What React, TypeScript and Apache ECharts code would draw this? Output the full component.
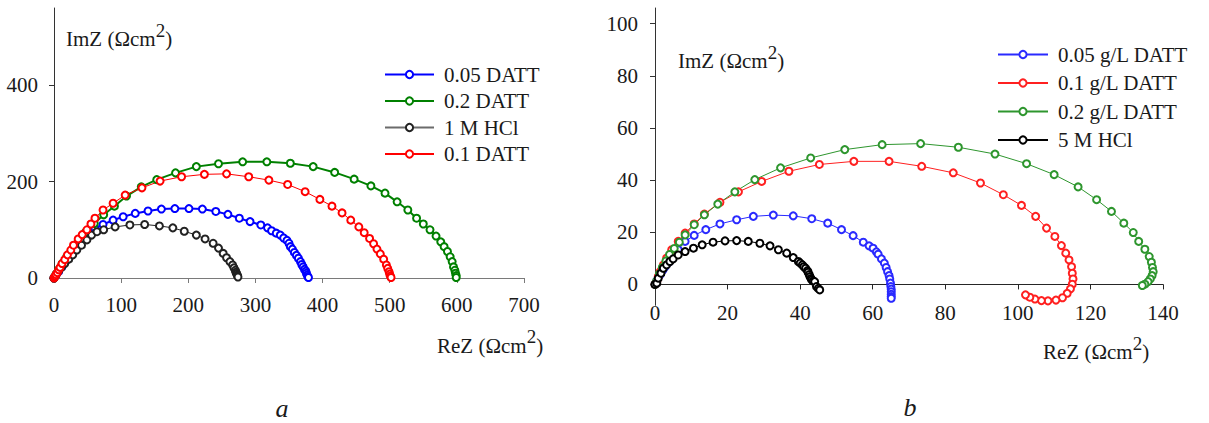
import React, { useEffect, useRef } from 'react';
import * as echarts from 'echarts';

const FONT = '"Liberation Serif", "Times New Roman", serif';
const TEXT = '#1a1a1a';

// ---------- Panel a (left) ----------
const leftNames = ['0.05 DATT', '0.2 DATT', '1 M HCl', '0.1 DATT'];
const leftXTicks = [0, 100, 200, 300, 400, 500, 600, 700];
const leftYTicks = [0, 200, 400];

const leftBlue = [
  [0, 0], [3, 6], [7, 14], [12, 24], [18, 36], [25, 50], [33, 64], [42, 79], [51, 92], [61, 103],
  [73, 111], [88, 120], [103, 127], [121, 134], [140, 139], [160, 143], [180, 144], [201, 144],
  [221, 143], [241, 138], [259, 132], [276, 124], [292, 117], [308, 110], [318, 104], [324, 98],
  [331, 93], [337, 89], [342, 83], [347, 78], [350, 72], [352, 65], [355, 60], [358, 53], [361, 47],
  [364, 41], [367, 34], [369, 28], [371, 23], [373, 18], [375, 14], [376, 10], [377, 6], [378, 3], [379, 1],
];
const leftGreen = [
  [0, 0], [3, 8], [7, 18], [12, 30], [19, 44], [27, 59], [36, 76], [47, 95], [60, 113], [74, 131],
  [90, 149], [108, 170], [130, 189], [153, 204], [181, 218], [212, 231], [245, 237], [281, 241],
  [317, 241], [352, 238], [386, 231], [418, 219], [447, 205], [472, 191], [493, 176], [511, 158],
  [527, 141], [540, 124], [550, 112], [560, 100], [569, 87], [576, 75], [581, 65], [586, 55],
  [590, 44], [593, 34], [595, 23], [597, 16], [598, 10], [599, 5], [599, 1],
];
const leftBlack = [
  [0, 0], [2, 4], [4, 9], [7, 15], [11, 22], [16, 30], [22, 39], [28, 48], [34, 58], [41, 68],
  [49, 79], [56, 89], [64, 96], [74, 100], [91, 106], [113, 110], [135, 111], [157, 108], [177, 104],
  [194, 97], [212, 89], [225, 81], [237, 72], [245, 62], [252, 51], [257, 42], [262, 34], [266, 27],
  [268, 21], [270, 16], [271, 12], [272, 9], [273, 6], [273.5, 4], [274, 2],
];
const leftRed = [
  [0, 0], [1, 2], [2, 4], [3, 7], [5, 11], [7, 17], [9, 22], [12, 30], [16, 38], [20, 48], [25, 58],
  [29, 68], [36, 81], [42, 90], [49, 100], [55, 112], [61, 124], [73, 141], [88, 155], [106, 172],
  [131, 187], [158, 201], [190, 210], [224, 215], [257, 216], [290, 210], [320, 203], [348, 194],
  [374, 179], [396, 163], [414, 149], [429, 135], [442, 120], [454, 106], [462, 94], [470, 82],
  [476, 71], [481, 60], [486, 50], [491, 39], [495, 27], [497, 20], [499, 13], [500, 8], [501, 4], [502, 1],
];

// ---------- Panel b (right) ----------
const rightNames = ['0.05 g/L DATT', '0.1 g/L DATT', '0.2 g/L DATT', '5 M HCl'];
const rightXTicks = [0, 20, 40, 60, 80, 100, 120, 140];
const rightYTicks = [0, 20, 40, 60, 80, 100];
const rightYMin = -8;
const rightYMax = 106;

const rightBlue = [
  [0, 0], [0.5, 1.5], [1.4, 3.7], [2.2, 5.5], [2.8, 6.8], [3.7, 8.5], [4.6, 10], [5.5, 11.8], [6.4, 13.3],
  [8.3, 16.5], [10.8, 18.8], [14, 21], [17.9, 23.2], [22.5, 24.8], [27.1, 26.1], [32.6, 26.6],
  [38.1, 26.3], [43.2, 25.2], [47.6, 23.5], [51.4, 21], [54.6, 18.7], [57.4, 16.2], [59, 14.8],
  [60.1, 13.9], [61, 12.5], [61.5, 11.6], [62.4, 9.8], [63.2, 8.2], [63.7, 6.5], [64.1, 4.9],
  [64.5, 3.4], [64.7, 2.1], [64.9, 0.5], [65, -0.8], [65.1, -1.8], [65.1, -2.8], [65.1, -3.8],
  [65.1, -4.6], [65.1, -5.3],
];
const rightRed = [
  [0, 0], [0.5, 1.1], [0.9, 3], [1.4, 4.9], [2.3, 7.5], [3.2, 10.1], [4.6, 13.3], [6.4, 16.5],
  [8.3, 19.7], [10.8, 23.2], [13.6, 27], [17.9, 31.5], [23, 35.5], [29.4, 39.5], [36.9, 43.4],
  [45.3, 46], [54.8, 47.2], [64.5, 47.2], [73.5, 45.3], [82.2, 42.8], [89.7, 38.9], [96, 34.4],
  [101, 30.3], [104.9, 26.1], [107.9, 21.6], [110.2, 18.4], [112, 14.9], [113.2, 12], [114.1, 9.4],
  [114.8, 6.8], [115, 4.3], [115.2, 2.1], [115, 0.1], [114.5, -1.7], [113.6, -3.4], [112.3, -5.1],
  [110.5, -6], [108.3, -6.3], [106.5, -6.2], [104.7, -5.6], [103.3, -4.9], [102.1, -4],
];
const rightGreen = [
  [0, 0], [0.5, 1.5], [1.2, 4], [2, 6.5], [3, 9], [4, 11.5], [5.3, 13.8], [6.7, 16.2], [8.3, 19],
  [10.8, 22.9], [13.6, 26.7], [17.3, 30.8], [22, 35.5], [27.5, 40.2], [34.6, 44.7], [42.9, 48.5],
  [52.3, 51.7], [62.6, 53.6], [73.2, 54], [83.6, 52.6], [93.7, 50], [102.4, 46.3], [110, 42.1],
  [116.6, 37.4], [121.7, 32.5], [125.8, 28], [129.2, 23.5], [131.8, 19.9], [133.3, 16.5], [135, 13.5],
  [136.2, 10.7], [136.8, 8.5], [137.1, 6.5], [137.3, 4.9], [137, 3.4], [136.5, 2.1], [135.9, 1.1],
  [135, 0.1], [134.3, -0.4],
];
const rightBlack = [
  [0, 0], [0.5, 0.5], [0.9, 2.4], [1.65, 4.3], [2.3, 6.2], [3.2, 7.5], [4.1, 8.8], [5, 9.8], [6.4, 11.3],
  [8.3, 12.6], [10.6, 13.9], [13, 15.2], [16, 16.2], [19.3, 16.7], [22.5, 16.8], [25.7, 16.5],
  [28.9, 15.8], [31.7, 14.8], [34, 13.3], [36.3, 12], [38.1, 10.3], [39.5, 8.8], [40, 8.2], [40.6, 7.5],
  [41, 6.8], [41.5, 6.2], [42, 5.3], [42.2, 4.7], [42.5, 3.8], [42.7, 3], [43, 2.3], [43.2, 1.7],
  [43.6, 1.3], [44, 1.1], [44.5, -0.8], [45, -1.5], [45.4, -2.1],
];

const RIGHT_GRID_H = 297.3;

function axisCommon(lineColor: string, margin: number) {
  return {
    axisLine: { show: true, onZero: false, lineStyle: { color: lineColor, width: 1 } },
    axisTick: { show: true, length: 5, lineStyle: { color: lineColor, width: 1 } },
    axisLabel: { margin, fontSize: 21, fontFamily: FONT, color: TEXT },
    splitLine: { show: false },
  };
}

function series(name: string, data: number[][], color: string, width: number, axis: number, size: number) {
  return {
    name,
    type: 'line',
    xAxisIndex: axis,
    yAxisIndex: axis,
    data,
    symbol: 'emptyCircle',
    symbolSize: size,
    showSymbol: true,
    showAllSymbol: true,
    clip: false,
    silent: true,
    lineStyle: { color, width },
    itemStyle: { color, borderColor: color, borderWidth: 1 },
    emphasis: { disabled: true },
  };
}

function unitLabel(text: string, x: number, yBottom: number) {
  return {
    type: 'text',
    silent: true,
    style: {
      x,
      y: yBottom,
      text: `{a|${text} (Ωcm}{s|2}{a|)}`,
      align: 'left',
      verticalAlign: 'bottom',
      fill: TEXT,
      rich: {
        a: { fontSize: 21, fontFamily: FONT, fill: TEXT, verticalAlign: 'bottom' },
        s: { fontSize: 19, fontFamily: FONT, fill: TEXT, verticalAlign: 'bottom', padding: [0, 0, 10, 0] },
      },
    },
  };
}

const legendText = { fontSize: 21, fontFamily: FONT, color: TEXT, padding: [0, 0, 0, 5] };

export default function App() {
  const ref = useRef<HTMLDivElement>(null);
  useEffect(() => {
    const chart = echarts.init(ref.current!, null, { renderer: 'svg' });
    // the horizontal axis of panel b crosses the vertical axis at ImZ = 0
    const zeroOffset = -(RIGHT_GRID_H * (0 - rightYMin)) / (rightYMax - rightYMin);
    const option: any = {
      animation: false,
      backgroundColor: '#ffffff',
      grid: [
        { left: 54, top: 8, width: 470, height: 270, outerBoundsMode: 'none', containLabel: false },
        { left: 655, top: 8, width: 508, height: RIGHT_GRID_H, outerBoundsMode: 'none', containLabel: false },
      ],
      xAxis: [
        {
          gridIndex: 0, type: 'value', min: leftXTicks[0], max: leftXTicks[leftXTicks.length - 1], interval: 100,
          ...axisCommon('#7a7a7a', 16),
        },
        {
          gridIndex: 1, type: 'value', min: rightXTicks[0], max: rightXTicks[rightXTicks.length - 1], interval: 20,
          position: 'bottom', offset: zeroOffset,
          ...axisCommon('#262626', 18),
        },
      ],
      yAxis: [
        (() => {
          const c: any = axisCommon('#333333', 16);
          return {
            gridIndex: 0, type: 'value', min: 0, max: 560,
            ...c,
            axisTick: { ...c.axisTick, customValues: leftYTicks },
            axisLabel: { ...c.axisLabel, customValues: leftYTicks },
          };
        })(),
        (() => {
          const c: any = axisCommon('#333333', 17);
          return {
            gridIndex: 1, type: 'value', min: rightYMin, max: rightYMax,
            ...c,
            axisTick: { ...c.axisTick, customValues: rightYTicks },
            axisLabel: { ...c.axisLabel, customValues: rightYTicks },
          };
        })(),
      ],
      legend: [
        {
          orient: 'vertical', left: 384, top: 64, padding: 0, itemGap: 5.5, itemWidth: 49, itemHeight: 9,
          selectedMode: false, textStyle: legendText,
          data: [
            { name: leftNames[0] },
            { name: leftNames[1] },
            { name: leftNames[2], lineStyle: { color: '#6b6b6b' } },
            { name: leftNames[3] },
          ],
        },
        {
          orient: 'vertical', left: 997, top: 44, padding: 0, itemGap: 7.5, itemWidth: 50, itemHeight: 9,
          selectedMode: false, textStyle: legendText,
          data: rightNames.map((n) => ({ name: n })),
        },
      ],
      series: [
        series(leftNames[0], leftBlue, '#0000ff', 2, 0, 7),
        series(leftNames[1], leftGreen, '#008000', 2, 0, 7),
        series(leftNames[2], leftBlack, '#222222', 1, 0, 7),
        series(leftNames[3], leftRed, '#ff0000', 1, 0, 7),
        series(rightNames[0], rightBlue, '#2a2aff', 1, 1, 7),
        series(rightNames[1], rightRed, '#ff2020', 1, 1, 7),
        series(rightNames[2], rightGreen, '#2e962e', 1, 1, 7),
        series(rightNames[3], rightBlack, '#000000', 1, 1, 7),
      ],
      graphic: [
        unitLabel('ImZ', 66, 49.5),
        unitLabel('ReZ', 437, 356),
        unitLabel('ImZ', 678, 71.5),
        unitLabel('ReZ', 1043, 362.5),
        {
          type: 'text', silent: true,
          style: { x: 282, y: 408, text: 'a', align: 'center', verticalAlign: 'middle', fill: TEXT,
            font: `italic 26px ${FONT}` },
        },
        {
          type: 'text', silent: true,
          style: { x: 910, y: 407, text: 'b', align: 'center', verticalAlign: 'middle', fill: TEXT,
            font: `italic 26px ${FONT}` },
        },
      ],
    };
    chart.setOption(option);
    return () => chart.dispose();
  }, []);
  return (
    <div
      ref={ref}
      style={{ position: 'absolute', left: 0, top: 0, width: 1209, height: 423, background: '#ffffff' }}
    />
  );
}
